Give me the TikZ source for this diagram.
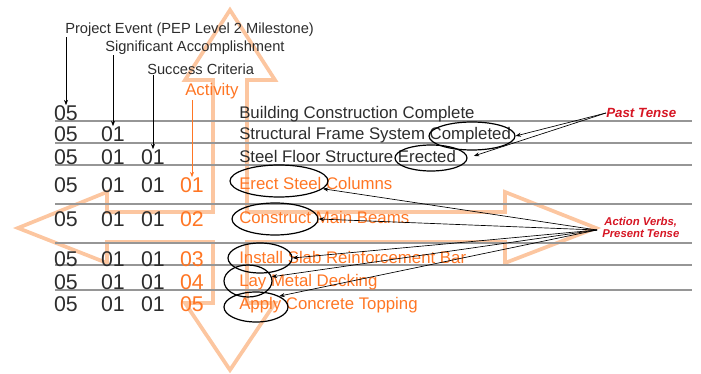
\documentclass[tikz,border=0pt]{standalone}
\usepackage{fontspec}
\setmainfont{Liberation Sans}
\usepackage{xcolor}
\usepackage{tikz}
\usetikzlibrary{shapes.geometric, arrows.meta}

\definecolor{wbsorange}{RGB}{255,118,36}
\definecolor{crossorange}{RGB}{252,198,160}
\definecolor{tensered}{RGB}{214,22,36}
\definecolor{ruleg}{RGB}{150,150,150}
\definecolor{txtg}{RGB}{45,45,45}

\tikzset{
  code/.style={font=\fontsize{16}{16}\selectfont, text=txtg, inner sep=0pt},
  ocode/.style={code, text=wbsorange},
  task/.style={font=\fontsize{12.6}{13}\selectfont, text=txtg, anchor=base west, inner sep=0pt},
  otask/.style={task, text=wbsorange},
  lbl/.style={font=\fontsize{11}{12}\selectfont, text=txtg, anchor=base west, inner sep=0pt},
  tense/.style={font=\bfseries\itshape, text=tensered, inner sep=0pt},
  ring/.style={draw=black, ellipse, line width=0.9pt, inner sep=0pt},
  pointer/.style={-{Stealth[length=4pt,width=3pt]}, line width=0.5pt},
  wbsrule/.style={draw=ruleg, line width=1pt},
}

\begin{document}
\begin{tikzpicture}[x=0.75pt, y=-0.75pt]
\useasboundingbox (0,0) rectangle (701,374);
% four-way arrow behind the table
\draw [crossorange, line width=2.8pt, line join=miter]
  (230,10) -- (275,80) -- (247,80) -- (247,212) -- (505,212) -- (505,192)
  -- (596,228) -- (505,263) -- (505,242) -- (247,242) -- (247,303)
  -- (275,303) -- (230,370) -- (185,303) -- (213,303) -- (213,242)
  -- (107,242) -- (107,263) -- (18,228) -- (107,192) -- (107,212)
  -- (213,212) -- (213,80) -- (185,80) -- cycle;
% row rules
\foreach \y in {121,143,165,204,243,265,290}
\draw [wbsrule] (55,\y) -- (692,\y);
% level labels
\node [lbl] (pe) at (65,34) {Project Event (PEP Level 2 Milestone)};
\node [lbl] (sa) at (105,52) {Significant Accomplishment};
\node [lbl] (sc) at (147,75) {Success Criteria};
\node [lbl, font=\fontsize{12.6}{13}\selectfont, text=wbsorange] (ac) at (185,96) {Activity};
% code columns
\foreach \r/\y in {1/113,2/134,3/157,4/185,5/219,6/259,7/282,8/304}
\node [code] (pe\r) at (66,\y) {05};
\foreach \r/\y in {2/134,3/157,4/185,5/219,6/259,7/282,8/304}
\node [code] (sa\r) at (113,\y) {01};
\foreach \r/\y in {3/157,4/185,5/219,6/259,7/282,8/304}
\node [code] (sc\r) at (153,\y) {01};
\foreach \r/\y/\n in {4/185/01,5/219/02,6/259/03,7/282/04,8/304/05}
\node [ocode] (ac\r) at (192,\y) {\n};
% level pointers
\draw [pointer] (pe1 |- pe.south) -- (pe1.north);
\draw [pointer] (sa2 |- sa.south) -- (sa2.north);
\draw [pointer] (sc3 |- sc.south) -- (sc3.north);
\draw [pointer, wbsorange] (ac4 |- ac.south) -- (ac4.north);
% task names
\node [task] (t1) at (239,119) {Building Construction Complete};
\node [task] (t2) at (239,140) {Structural Frame System Completed};
\node [task] (t3) at (239,163) {Steel Floor Structure Erected};
\node [otask] (t4) at (239,190) {Erect Steel Columns};
\node [otask] (t5) at (239,224) {Construct Main Beams};
\node [otask] (t6) at (239,264) {Install Slab Reinforcement Bar};
\node [otask] (t7) at (239,287) {Lay Metal Decking};
\node [otask] (t8) at (239,310) {Apply Concrete Topping};
% verb rings
\node [ring, minimum width=64.5pt, minimum height=21pt] (eCompleted) at (472,136) {};
\node [ring, minimum width=54pt, minimum height=19.5pt] (eErected) at (431,158) {};
\node [ring, minimum width=73.5pt, minimum height=24pt] (eErect) at (279,181) {};
\node [ring, minimum width=64.5pt, minimum height=24pt] (eConstruct) at (275,219) {};
\node [ring, minimum width=48pt, minimum height=22.5pt] (eInstall) at (260,258) {};
\node [ring, minimum width=36pt, minimum height=24pt] (eLay) at (248,281) {};
\node [ring, minimum width=48pt, minimum height=22.5pt] (eApply) at (256,307) {};
% tense notes
\node [tense, font=\fontsize{10}{11}\selectfont\bfseries\itshape, anchor=west] (past) at (606,113) {Past Tense};
\node [tense, font=\fontsize{8.5}{9}\selectfont\bfseries\itshape, align=center, anchor=west] (action) at (602,227) {Action Verbs,\\Present Tense};
\coordinate (av) at (597,230);
\draw [pointer] (past.west) -- (eCompleted.east);
\draw [pointer, shorten >=5pt] (past.west) -- (eErected.east);
\foreach \e/\a in {eErect/-10,eConstruct/0,eInstall/0,eLay/10,eApply/25}
\draw [pointer] (av) -- (\e.\a);
\end{tikzpicture}
\end{document}
